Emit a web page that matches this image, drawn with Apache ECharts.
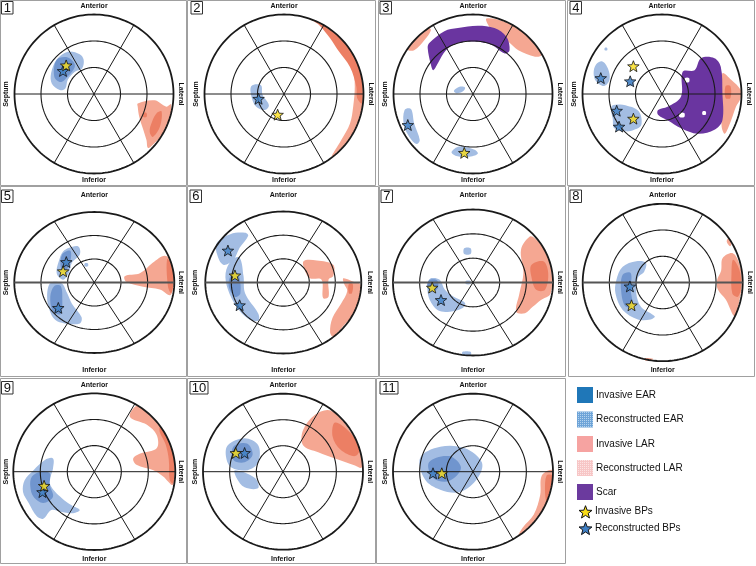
<!DOCTYPE html>
<html><head><meta charset="utf-8">
<script src="https://cdn.jsdelivr.net/npm/echarts@6/dist/echarts.min.js"></script>
<style>html,body{margin:0;padding:0;background:#fff}#c{width:756px;height:566px}</style>
</head><body><div id="c"></div>
<script>
// ---------- DATA (normalised bullseye coordinates, outer ring = 1) ----------
const panelNames = ['1','2','3','4','5','6','7','8','9','10','11'];
const ringRadii = [1/3, 2/3, 1];
const spokeAngles = [0, 60, 120];
const directionLabels = ['Anterior', 'Inferior', 'Septum', 'Lateral'];
const legendLabels = ['Invasive EAR', 'Reconstructed EAR', 'Invasive LAR', 'Reconstructed LAR', 'Scar', 'Invasive BPs', 'Reconstructed BPs'];

// light blue areas (reconstructed EAR)
const earReconstructed = [
  [[[-0.33,0.53],[-0.18,0.50],[-0.13,0.43],[-0.15,0.32],[-0.24,0.28],[-0.33,0.18],[-0.36,0.07],[-0.43,0.05],[-0.53,0.13],[-0.54,0.26],[-0.47,0.43]]],
  [[[-0.41,0.10],[-0.29,0.11],[-0.27,-0.01],[-0.19,-0.14],[-0.24,-0.20],[-0.35,-0.16],[-0.41,-0.03]]],
  [[[-0.24,0.04],[-0.17,0.09],[-0.10,0.08],[-0.13,0.03],[-0.21,0.01]],
   [[-0.86,-0.20],[-0.78,-0.19],[-0.74,-0.37],[-0.67,-0.58],[-0.71,-0.63],[-0.80,-0.54],[-0.87,-0.39]],
   [[-0.27,-0.73],[-0.17,-0.66],[0.02,-0.70],[0.06,-0.75],[-0.06,-0.79],[-0.21,-0.78]]],
  [[[-0.83,0.37],[-0.75,0.41],[-0.68,0.32],[-0.66,0.18],[-0.73,0.10],[-0.83,0.16],[-0.86,0.26]],
   [[-0.44,0.17],[-0.37,0.18],[-0.35,0.12],[-0.41,0.10]],
   [[-0.62,-0.14],[-0.43,-0.15],[-0.29,-0.22],[-0.26,-0.39],[-0.35,-0.45],[-0.45,-0.47],[-0.60,-0.43],[-0.62,-0.31],[-0.64,-0.20]],
   [[-0.72,0.58],[-0.69,0.58],[-0.69,0.55],[-0.72,0.55]]],
  [[[-0.32,0.49],[-0.20,0.51],[-0.18,0.40],[-0.28,0.28],[-0.32,0.13],[-0.39,0.04],[-0.47,0.13],[-0.43,0.35],[-0.39,0.44]],
   [[-0.55,-0.01],[-0.41,-0.01],[-0.34,-0.15],[-0.28,-0.30],[-0.16,-0.49],[-0.18,-0.58],[-0.37,-0.58],[-0.49,-0.53],[-0.56,-0.39],[-0.59,-0.20]],
   [[-0.12,0.27],[-0.08,0.27],[-0.08,0.23],[-0.12,0.23]]],
  [[[-0.85,0.56],[-0.68,0.68],[-0.49,0.70],[-0.45,0.66],[-0.56,0.49],[-0.64,0.32],[-0.77,0.25],[-0.85,0.40]],
   [[-0.66,0.32],[-0.56,0.35],[-0.51,0.09],[-0.49,-0.15],[-0.32,-0.44],[-0.32,-0.54],[-0.45,-0.51],[-0.60,-0.34],[-0.71,-0.10],[-0.74,0.13]]],
  [[[-0.56,0.01],[-0.52,0.06],[-0.42,0.04],[-0.35,-0.10],[-0.25,-0.19],[-0.10,-0.28],[-0.13,-0.35],[-0.29,-0.40],[-0.44,-0.38],[-0.54,-0.24],[-0.57,-0.10]],
   [[-0.11,0.47],[-0.03,0.47],[-0.03,0.39],[-0.11,0.39]],
   [[-0.09,0.02],[-0.03,0.02],[-0.03,-0.02],[-0.09,-0.02]],
   [[-0.13,-0.95],[-0.03,-0.95],[-0.03,-1.00],[-0.13,-1.00]]],
  [[[-0.58,0.03],[-0.50,0.20],[-0.33,0.27],[-0.21,0.25],[-0.23,0.14],[-0.31,0.06],[-0.33,-0.14],[-0.27,-0.31],[-0.10,-0.43],[-0.15,-0.47],[-0.31,-0.47],[-0.50,-0.35],[-0.59,-0.14]]],
  [[[-0.86,-0.11],[-0.75,0.02],[-0.61,0.15],[-0.51,0.17],[-0.51,0.04],[-0.55,-0.15],[-0.40,-0.34],[-0.28,-0.43],[-0.18,-0.49],[-0.26,-0.53],[-0.42,-0.51],[-0.53,-0.49],[-0.63,-0.60],[-0.71,-0.57],[-0.81,-0.40],[-0.88,-0.26]]],
  [[[-0.69,0.34],[-0.48,0.43],[-0.31,0.34],[-0.31,0.12],[-0.44,0.02],[-0.64,0.05],[-0.71,0.18]],
   [[-0.60,0.02],[-0.35,-0.08],[-0.31,-0.21],[-0.48,-0.20],[-0.58,-0.08]]],
  [[[-0.66,0.18],[-0.41,0.32],[-0.10,0.30],[0.11,0.12],[0.06,-0.08],[-0.16,-0.26],[-0.41,-0.23],[-0.60,-0.10]]]
];
// darker blue overlap (invasive EAR)
const earInvasive = [
  [[[-0.47,0.43],[-0.33,0.46],[-0.24,0.36],[-0.33,0.22],[-0.42,0.15],[-0.50,0.22]]],
  [],
  [],
  [],
  [[[-0.40,0.40],[-0.30,0.45],[-0.30,0.30],[-0.37,0.15],[-0.42,0.22]],
   [[-0.50,-0.05],[-0.42,-0.05],[-0.40,-0.25],[-0.42,-0.45],[-0.52,-0.40],[-0.55,-0.20]]],
  [[[-0.67,0.10],[-0.58,0.12],[-0.55,-0.15],[-0.62,-0.20],[-0.70,-0.05]]],
  [[[-0.55,0.03],[-0.45,0.03],[-0.44,-0.08],[-0.52,-0.12],[-0.57,-0.06]]],
  [[[-0.50,0.10],[-0.40,0.12],[-0.40,-0.10],[-0.38,-0.30],[-0.47,-0.30],[-0.52,-0.10]]],
  [[[-0.77,-0.06],[-0.65,0.00],[-0.55,-0.02],[-0.55,-0.17],[-0.51,-0.32],[-0.63,-0.40],[-0.75,-0.32],[-0.79,-0.19]]],
  [[[-0.62,0.32],[-0.45,0.36],[-0.38,0.22],[-0.48,0.12],[-0.62,0.15]]],
  [[[-0.55,0.12],[-0.30,0.20],[-0.15,0.05],[-0.30,-0.12],[-0.50,-0.08]]]
];
// salmon areas (reconstructed LAR)
const larReconstructed = [
  [[[0.55,-0.12],[0.76,-0.08],[0.91,-0.16],[0.97,-0.13],[0.95,-0.33],[0.87,-0.50],[0.76,-0.62],[0.68,-0.68],[0.66,-0.58],[0.62,-0.45],[0.57,-0.29],[0.55,-0.16]]],
  [[[0.32,0.94],[0.50,0.86],[0.64,0.76],[0.77,0.64],[0.87,0.49],[0.94,0.34],[0.98,0.17],[0.99,0.00],[0.98,-0.17],[0.94,-0.34],[0.87,-0.49],[0.77,-0.63],[0.60,-0.79],[0.72,-0.58],[0.83,-0.37],[0.87,-0.16],[0.89,0.09],[0.87,0.30],[0.79,0.45],[0.66,0.60],[0.58,0.76],[0.47,0.89]]],
  [[[0.17,0.95],[0.40,0.91],[0.57,0.82],[0.71,0.70],[0.86,0.49],[0.78,0.47],[0.57,0.55],[0.44,0.66],[0.27,0.76],[0.19,0.87]],
   [[-0.82,0.56],[-0.71,0.70],[-0.55,0.83],[-0.53,0.80],[-0.61,0.68],[-0.74,0.55]]],
  [[[0.76,0.26],[0.87,0.18],[0.99,0.05],[0.99,-0.05],[0.93,-0.16],[0.87,-0.33],[0.79,-0.50],[0.75,-0.41],[0.75,-0.08]]],
  [[[0.38,0.09],[0.57,0.13],[0.73,0.28],[0.88,0.38],[0.96,0.30],[0.99,0.00],[0.95,-0.18],[0.82,-0.10],[0.61,-0.06],[0.40,0.01]]],
  [[[0.26,0.30],[0.43,0.31],[0.64,0.25],[0.64,0.09],[0.58,0.04],[0.58,-0.20],[0.51,-0.22],[0.49,0.04],[0.34,0.06],[0.28,0.16]],
   [[0.77,0.06],[0.90,0.01],[0.99,-0.03],[0.97,-0.25],[0.90,-0.45],[0.78,-0.60],[0.64,-0.76],[0.60,-0.70],[0.63,-0.50],[0.74,-0.30],[0.82,-0.12],[0.78,-0.02]]],
  [[[0.71,0.63],[0.78,0.60],[0.92,0.40],[0.98,0.17],[0.97,-0.15],[0.85,-0.24],[0.75,-0.33],[0.65,-0.42],[0.54,-0.40],[0.58,-0.15],[0.63,0.13],[0.60,0.45]]],
  [[[0.75,0.31],[0.88,0.37],[0.97,0.20],[0.99,-0.01],[0.96,-0.22],[0.90,-0.43],[0.79,-0.22],[0.69,-0.09],[0.68,0.03],[0.73,0.15]],
   [[0.82,0.56],[0.86,0.50],[0.84,0.46],[0.80,0.52]],
   [[-0.22,-0.96],[-0.12,-0.97],[-0.14,-0.99],[-0.22,-0.99]]],
  [[[0.52,0.84],[0.64,0.76],[0.77,0.63],[0.87,0.49],[0.94,0.34],[0.98,0.17],[0.99,0.00],[0.97,-0.17],[0.85,-0.06],[0.73,0.02],[0.52,0.09],[0.48,0.17],[0.56,0.23],[0.77,0.30],[0.77,0.47],[0.65,0.60],[0.44,0.70]]],
  [[[0.25,0.53],[0.40,0.73],[0.60,0.78],[0.86,0.49],[0.99,0.15],[0.98,0.05],[0.90,0.08],[0.65,0.17],[0.44,0.25],[0.25,0.34]]],
  [[[0.99,0.02],[0.98,-0.17],[0.94,-0.34],[0.87,-0.49],[0.77,-0.63],[0.57,-0.82],[0.62,-0.72],[0.76,-0.55],[0.84,-0.30],[0.86,-0.05]]]
];
// darker salmon overlap (invasive LAR)
const larInvasive = [
  [[[0.79,-0.24],[0.85,-0.22],[0.83,-0.41],[0.74,-0.54],[0.70,-0.47],[0.73,-0.35]],
   [[0.62,-0.24],[0.66,-0.24],[0.66,-0.29],[0.62,-0.29]]],
  [[[0.34,0.94],[0.50,0.86],[0.64,0.76],[0.77,0.64],[0.87,0.49],[0.94,0.34],[0.98,0.17],[0.99,0.00],[0.98,-0.12],[0.92,-0.05],[0.91,0.09],[0.83,0.34],[0.68,0.55],[0.58,0.70],[0.45,0.86]]],
  [[[0.33,0.75],[0.42,0.72],[0.43,0.62],[0.36,0.65]]],
  [[[0.80,0.10],[0.86,0.10],[0.86,-0.05],[0.80,-0.05]]],
  [[[0.91,0.33],[0.97,0.25],[0.99,0.00],[0.96,-0.15],[0.92,-0.05]]],
  [[[0.84,-0.02],[0.89,-0.02],[0.88,-0.15],[0.84,-0.15]]],
  [[[0.73,0.24],[0.88,0.29],[0.94,0.13],[0.90,-0.10],[0.79,-0.10],[0.73,0.08]]],
  [[[0.88,0.29],[0.96,0.16],[0.98,-0.05],[0.94,-0.18],[0.87,-0.14],[0.86,0.12]]],
  [[[0.81,0.57],[0.87,0.49],[0.94,0.34],[0.98,0.17],[0.99,0.00],[0.97,-0.15],[0.93,-0.10],[0.92,0.15],[0.88,0.35],[0.81,0.50]]],
  [[[0.65,0.63],[0.84,0.50],[0.96,0.30],[0.90,0.20],[0.72,0.28],[0.62,0.45]]],
  [[[0.99,-0.05],[0.96,-0.25],[0.92,-0.38],[0.90,-0.25],[0.92,-0.05]]]
];
// scar areas
const scarAreas = [
  [], [],
  [[[-0.55,0.64],[-0.36,0.79],[-0.19,0.83],[0.06,0.86],[0.27,0.83],[0.42,0.72],[0.46,0.55],[0.40,0.51],[0.23,0.62],[0.02,0.66],[-0.19,0.64],[-0.34,0.55],[-0.44,0.39],[-0.50,0.30],[-0.53,0.37],[-0.57,0.58]]],
  [[[-0.05,-0.20],[0.07,-0.16],[0.24,-0.03],[0.26,0.28],[0.41,0.30],[0.49,0.45],[0.66,0.45],[0.74,0.34],[0.76,0.01],[0.76,-0.33],[0.66,-0.45],[0.45,-0.50],[0.24,-0.43],[0.07,-0.33],[-0.05,-0.26]]],
  [], [], [], [], [], [], []
];
const scarGaps = [
  [], [], [],
  [[[0.29,0.20],[0.34,0.20],[0.34,0.15],[0.29,0.15]],
   [[0.22,-0.24],[0.28,-0.24],[0.28,-0.29],[0.22,-0.29]],
   [[0.51,-0.22],[0.55,-0.22],[0.55,-0.26],[0.51,-0.26]]],
  [], [], [], [], [], [], []
];
// breakthrough points
const invasiveBPs = [
  [[-0.35,0.36]], [[-0.08,-0.26]], [[-0.11,-0.74]], [[-0.36,0.35],[-0.36,-0.31]],
  [[-0.39,0.16]], [[-0.62,0.10]], [[-0.51,-0.07]], [[-0.39,-0.29]],
  [[-0.62,-0.18]], [[-0.59,0.24]], [[-0.39,-0.02]]
];
const reconstructedBPs = [
  [[-0.39,0.29]], [[-0.32,-0.06]], [[-0.82,-0.39]], [[-0.77,0.20],[-0.40,0.16],[-0.57,-0.21],[-0.54,-0.41]],
  [[-0.35,0.29],[-0.45,-0.36]], [[-0.71,0.45],[-0.56,-0.32]], [[-0.40,-0.24]], [[-0.41,-0.05]],
  [[-0.64,-0.26]], [[-0.48,0.24]], [[-0.50,-0.02]]
];

// ---------- LAYOUT ----------
const layout = [
  {cx:94,   cy:94,    rx:79.5, ry:79.5, row:0, box:[0.5,0.5,186,185],   num:[1.5,1.5]},
  {cx:284,  cy:94,    rx:79.5, ry:79.5, row:0, box:[187.5,0.5,188,185], num:[191,1.5]},
  {cx:473,  cy:94,    rx:79.5, ry:79.5, row:0, box:[378.5,0.5,187,185], num:[380,1.5]},
  {cx:662,  cy:94,    rx:79.5, ry:79.5, row:0, box:[567.5,0.5,187,185], num:[570,1.5]},
  {cx:94.3, cy:282.5, rx:80,   ry:70.5, row:1, box:[0.5,186.5,186,190], num:[1.5,190]},
  {cx:283.3,cy:282.5, rx:78,   ry:71,   row:1, box:[187.5,186.5,191,190], num:[190,190]},
  {cx:473,  cy:282.5, rx:80,   ry:73,   row:1, box:[379.5,186.5,186,190], num:[381,190]},
  {cx:662.7,cy:282.5, rx:80,   ry:78.7, row:1, box:[568.5,186.5,186,190], num:[570,190]},
  {cx:94.3, cy:471.7, rx:81,   ry:78.3, row:2, box:[0.5,378.5,186,185], num:[1.5,381.5]},
  {cx:283,  cy:471.7, rx:80,   ry:78,   row:2, box:[187.5,378.5,188,185], num:[190,381.5]},
  {cx:473,  cy:471.7, rx:80,   ry:78,   row:2, box:[376.5,378.5,189,185], num:[380,381.5]}
];
const rowLabelY = [[5.7,180.3],[195.3,370.3],[385,559.3]];

// 5-point star outline (unit coordinates, outer radius 1, inner 0.42)
const starUnit = [];
for (let k = 0; k < 10; k++) {
  const r = k % 2 === 0 ? 1 : 0.42, t = (-90 + 36*k) * Math.PI/180;
  starUnit.push([r*Math.cos(t), r*Math.sin(t)]);
}
const starPath = 'path://M' + starUnit.map(p => (10+10*p[0]).toFixed(2)+','+(10+10*p[1]).toFixed(2)).join('L') + 'Z';
const COL = {earRec:'#a3bde3', earInv:'#7095ce', larRec:'#f5a792', larInv:'#ec7f64', scar:'#6a35a0',
             yellow:'#f9dc18', blue:'#3f7fc4', line:'#1a1a1a'};

const chart = echarts.init(document.getElementById('c'), null, {renderer:'canvas'});
const grids = [], xAxes = [], yAxes = [], series = [], graphics = [];

function blobSeries(gi, polys, color, z) {
  return {
    type:'custom', xAxisIndex:gi, yAxisIndex:gi, z:z, silent:true, clip:false, animation:false,
    data: polys.map((p,i)=>[p[0][0], p[0][1], i]),
    renderItem: (params, api) => ({
      type:'polygon',
      shape:{points: polys[params.dataIndex].map(q => api.coord(q)), smooth:0.35},
      style:{fill:color}
    })
  };
}

layout.forEach((L, gi) => {
  grids.push({left:L.cx-L.rx, top:L.cy-L.ry, width:2*L.rx, height:2*L.ry, containLabel:false});
  xAxes.push({gridIndex:gi, type:'value', min:-1, max:1, show:false});
  yAxes.push({gridIndex:gi, type:'value', min:-1, max:1, show:false});

  series.push(blobSeries(gi, earReconstructed[gi], COL.earRec, 1));
  series.push(blobSeries(gi, earInvasive[gi], COL.earInv, 2));
  series.push(blobSeries(gi, larReconstructed[gi], COL.larRec, 1));
  series.push(blobSeries(gi, larInvasive[gi], COL.larInv, 2));
  series.push(blobSeries(gi, scarAreas[gi], COL.scar, 3));
  series.push(blobSeries(gi, scarGaps[gi], '#ffffff', 4));

  const horizStyle = L.row === 1 ? {stroke:'#555', lineWidth:2} : {stroke:COL.line, lineWidth:1};
  series.push({
    type:'custom', xAxisIndex:gi, yAxisIndex:gi, z:6, silent:true, clip:false, animation:false,
    data:[[0,0]],
    renderItem: (params, api) => {
      const children = [];
      ringRadii.forEach((r, i) => {
        const pts = [];
        for (let a = 0; a <= 360; a += 2) {
          const t = a*Math.PI/180;
          pts.push(api.coord([r*Math.cos(t), r*Math.sin(t)]));
        }
        children.push({type:'polyline', shape:{points:pts},
          style:{stroke:COL.line, lineWidth: i === 2 ? 1.8 : 1.1, fill:null}});
      });
      spokeAngles.forEach(a => {
        const t = a*Math.PI/180;
        const p1 = api.coord([-Math.cos(t), -Math.sin(t)]);
        const p2 = api.coord([Math.cos(t), Math.sin(t)]);
        children.push({type:'line', shape:{x1:p1[0], y1:p1[1], x2:p2[0], y2:p2[1]},
          style: a === 0 ? horizStyle : {stroke:COL.line, lineWidth:1}});
      });
      return {type:'group', children};
    }
  });

  series.push({type:'scatter', xAxisIndex:gi, yAxisIndex:gi, z:8, silent:true, clip:false, animation:false,
    symbol:starPath, symbolKeepAspect:true, symbolSize:11.5,
    itemStyle:{color:COL.blue, borderColor:'#111', borderWidth:1}, data:reconstructedBPs[gi]});
  series.push({type:'scatter', xAxisIndex:gi, yAxisIndex:gi, z:9, silent:true, clip:false, animation:false,
    symbol:starPath, symbolKeepAspect:true, symbolSize:11.5,
    itemStyle:{color:COL.yellow, borderColor:'#111', borderWidth:1}, data:invasiveBPs[gi]});

  graphics.push({type:'rect', z:0, shape:{x:L.box[0], y:L.box[1], width:L.box[2], height:L.box[3]},
    style:{fill:null, stroke:'#a0a0a0', lineWidth:1}, silent:true});
  const nw = panelNames[gi].length > 1 ? 18 : 11.5;
  graphics.push({type:'rect', z:20, shape:{x:L.num[0], y:L.num[1], width:nw, height:12.5},
    style:{fill:'#fff', stroke:'#333', lineWidth:1}, silent:true});
  graphics.push({type:'text', z:21, x:L.num[0]+nw/2, y:L.num[1]+6.6,
    style:{text:panelNames[gi], font:'13px "Liberation Sans", Arial, sans-serif', fill:'#111', align:'center', verticalAlign:'middle'}, silent:true});
  const lf = 'bold 7px "Liberation Sans", Arial, sans-serif';
  const ly = rowLabelY[L.row];
  graphics.push({type:'text', z:21, x:L.cx, y:ly[0], style:{text:directionLabels[0], font:lf, fill:'#111', align:'center', verticalAlign:'middle'}, silent:true});
  graphics.push({type:'text', z:21, x:L.cx, y:ly[1], style:{text:directionLabels[1], font:lf, fill:'#111', align:'center', verticalAlign:'middle'}, silent:true});
  graphics.push({type:'text', z:21, x:L.cx-88, y:L.cy, rotation:Math.PI/2, style:{text:directionLabels[2], font:lf, fill:'#111', align:'center', verticalAlign:'middle'}, silent:true});
  graphics.push({type:'text', z:21, x:L.cx+87, y:L.cy, rotation:-Math.PI/2, style:{text:directionLabels[3], font:lf, fill:'#111', align:'center', verticalAlign:'middle'}, silent:true});
});

// legend
function makePattern(bg, dot) {
  const c = document.createElement('canvas'); c.width = 2; c.height = 2;
  const g = c.getContext('2d'); g.fillStyle = bg; g.fillRect(0,0,2,2);
  g.fillStyle = dot; g.fillRect(0,0,1,1);
  return {image:c, repeat:'repeat'};
}
const swatchFills = ['#1f77b8', makePattern('#6ea4d8','#b4d3ee'), '#f6a3a1', makePattern('#f7c6c6','#fce4e4'), '#6b3a9e'];
const swatchTops = [387, 411.5, 436, 460, 484];
const legendFont = '10px "Liberation Sans", Arial, sans-serif';
swatchFills.forEach((f, i) => {
  graphics.push({type:'rect', z:20, shape:{x:577, y:swatchTops[i], width:16, height:16}, style:{fill:f}, silent:true});
  graphics.push({type:'text', z:20, x:596, y:swatchTops[i]+8, style:{text:legendLabels[i], font:legendFont, fill:'#111', align:'left', verticalAlign:'middle'}, silent:true});
});
[[COL.yellow, 511.7, 5], [COL.blue, 528.3, 6]].forEach(([c, y, li]) => {
  graphics.push({type:'polygon', z:20, shape:{points: starUnit.map(p => [585.5 + 6.8*p[0], y + 0.8 + 6.8*p[1]])},
    style:{fill:c, stroke:'#111', lineWidth:1}, silent:true});
  graphics.push({type:'text', z:20, x:595, y:y, style:{text:legendLabels[li], font:legendFont, fill:'#111', align:'left', verticalAlign:'middle'}, silent:true});
});

chart.setOption({
  animation:false,
  backgroundColor:'#ffffff',
  grid:grids, xAxis:xAxes, yAxis:yAxes, series:series, graphic:graphics
});
</script>
</body></html>
